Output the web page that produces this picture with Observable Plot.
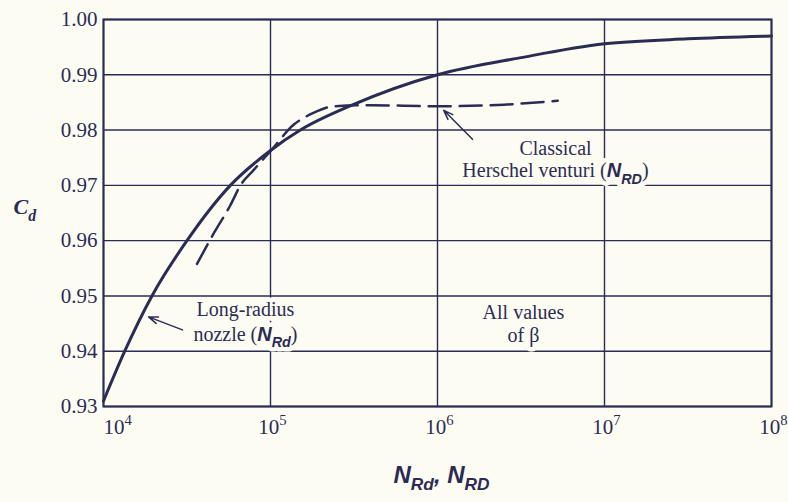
<!DOCTYPE html>
<html><head><meta charset="utf-8">
<script src="https://cdn.jsdelivr.net/npm/d3@7"></script>
<script src="https://cdn.jsdelivr.net/npm/@observablehq/plot@0.6"></script>
<style>
html,body{margin:0;padding:0;background:#fdfcf3;}
#chart svg{display:block;}
</style></head><body><div id="chart"></div>
<script>
// ---- data ----
const xTicks = [1e4, 1e5, 1e6, 1e7, 1e8];
const xTickLabels = ["10^{4}", "10^{5}", "10^{6}", "10^{7}", "10^{8}"];
const yTicks = [0.93, 0.94, 0.95, 0.96, 0.97, 0.98, 0.99, 1.00];
const yTickLabels = ["0.93", "0.94", "0.95", "0.96", "0.97", "0.98", "0.99", "1.00"];

// Long-radius nozzle (solid)
const nozzleRe = [10000, 13400, 19500, 31600, 57500, 100000, 151000, 302000, 1000000, 3160000, 10000000, 31600000, 100000000];
const nozzleCd = [0.931, 0.940, 0.950, 0.960, 0.970, 0.9763, 0.980, 0.9844, 0.990, 0.9931, 0.9956, 0.9965, 0.9970];

// Classical Herschel venturi (dashed)
const venturiRe = [36300, 45700, 57500, 66100, 79400, 100000, 138000, 178000, 240000, 398000, 1000000, 2510000, 5250000];
const venturiCd = [0.9558, 0.9613, 0.9664, 0.9700, 0.9728, 0.9762, 0.9810, 0.9830, 0.9843, 0.9845, 0.9843, 0.9846, 0.9853];

const notes = [
  {x: 70800, y: 0.94558, text: "Long-radius\nnozzle (*N*_[Rd])", lh: 1.25},
  {x: 5090000, y: 0.97473, text: "Classical\nHerschel venturi (*N*_[RD])", lh: 1.1},
  {x: 3270000, y: 0.94513, text: "All values\nof β", lh: 1.15}
];
const arrows = [
  {x1: 29700, y1: 0.94386, x2: 18600, y2: 0.94621},
  {x1: 1620000, y1: 0.97834, x2: 1090000, y2: 0.98357}
];

// ---- build tables ----
const nozzle = nozzleRe.map((r, i) => ({re: r, cd: nozzleCd[i]}));
const venturi = venturiRe.map((r, i) => ({re: r, cd: venturiCd[i]}));

const ink = "#2b2c55";
const bg = "#fdfcf3";
const serif = "Liberation Serif, Times New Roman, serif";

const noteMarks = notes.flatMap(n => [
  Plot.text([n], {x: "x", y: "y", text: "text", lineAnchor: "middle", lineHeight: n.lh,
    fontSize: 20, fontFamily: serif, fill: bg, stroke: bg, strokeWidth: 9}),
  Plot.text([n], {x: "x", y: "y", text: "text", lineAnchor: "middle", lineHeight: n.lh,
    fontSize: 20, fontFamily: serif, fill: ink})
]);

const chart = Plot.plot({
  width: 788, height: 502,
  marginLeft: 103, marginRight: 17, marginTop: 19, marginBottom: 96,
  style: {background: bg, fontFamily: serif, color: ink, overflow: "visible"},
  x: {type: "log", domain: [1e4, 1e8], axis: null},
  y: {domain: [0.93, 1.0], axis: null},
  marks: [
    Plot.ruleX(xTicks, {stroke: ink, strokeWidth: 1.4}),
    Plot.ruleY(yTicks, {stroke: ink, strokeWidth: 1.4}),
    Plot.frame({stroke: ink, strokeWidth: 2}),
    ...noteMarks,
    Plot.line(venturi, {x: "re", y: "cd", stroke: ink, strokeWidth: 2.5,
      strokeDasharray: "22,9", curve: "monotone-x"}),
    Plot.line(nozzle, {x: "re", y: "cd", stroke: ink, strokeWidth: 3, curve: "monotone-x"}),
    Plot.arrow(arrows, {x1: "x1", y1: "y1", x2: "x2", y2: "y2", stroke: ink,
      strokeWidth: 1.5, headLength: 10, headAngle: 40}),
    // y tick labels
    Plot.text(yTicks, {y: d => d, text: (d, i) => yTickLabels[i], frameAnchor: "left",
      textAnchor: "end", dx: -6, fontSize: 21, fontFamily: serif, fill: ink}),
    // x tick labels
    Plot.text(xTicks.slice(0, 1), {x: d => d, text: (d, i) => xTickLabels[i], frameAnchor: "bottom",
      textAnchor: "start", lineAnchor: "middle", dy: 21, dx: 0, fontSize: 21, fontFamily: serif, fill: ink}),
    Plot.text(xTicks.slice(1), {x: d => d, text: (d, i) => xTickLabels[i + 1], frameAnchor: "bottom",
      lineAnchor: "middle", dy: 21, dx: 2, fontSize: 21, fontFamily: serif, fill: ink}),
    // axis titles
    Plot.text(["C_{d}"], {text: d => d, frameAnchor: "left", dx: -90, dy: -6, textAnchor: "start",
      fontSize: 22, fontFamily: serif, fontStyle: "italic", fontWeight: "bold", fill: ink}),
    Plot.text(["*N*_[Rd], *N*_[RD]"], {text: d => d, frameAnchor: "bottom", dy: 76, dx: 4,
      fontSize: 24, fill: ink, fontFamily: "Liberation Sans, sans-serif", fontStyle: "italic", fontWeight: "bold"})
  ]
});
document.getElementById("chart").appendChild(chart);

// ---- rich text: sub/superscripts and handwritten symbols ----
const NS = "http://www.w3.org/2000/svg";
function richify(el) {
  const s = el.textContent;
  if (!/[_^*]/.test(s)) return;
  const size = parseFloat(getComputedStyle(el).fontSize) || 20;
  while (el.firstChild) el.removeChild(el.firstChild);
  const re = /\*([^*]+)\*|_\{([^}]*)\}|_\[([^\]]*)\]|\^\{([^}]*)\}|([^*_^]+)/g;
  let m, shift = 0;
  while ((m = re.exec(s))) {
    const t = document.createElementNS(NS, "tspan");
    let ns = 0;
    if (m[1] != null) {
      t.textContent = m[1];
      t.setAttribute("font-family", "Liberation Sans, sans-serif");
      t.setAttribute("font-style", "italic");
      t.setAttribute("font-weight", "bold");
    } else if (m[2] != null || m[3] != null) {
      t.textContent = m[2] != null ? m[2] : m[3];
      t.setAttribute("font-size", (size * 0.72).toFixed(1));
      ns = size * 0.33;
      if (m[3] != null) {
        t.setAttribute("font-family", "Liberation Sans, sans-serif");
        t.setAttribute("font-style", "italic");
        t.setAttribute("font-weight", "bold");
      }
    } else if (m[4] != null) {
      t.textContent = m[4];
      t.setAttribute("font-size", (size * 0.7).toFixed(1));
      ns = -size * 0.42;
    } else {
      t.textContent = m[5];
    }
    if (ns !== shift) t.setAttribute("dy", (ns - shift).toFixed(1));
    shift = ns;
    el.appendChild(t);
  }
}
const targets = [];
chart.querySelectorAll("text").forEach(txt => {
  const lines = txt.querySelectorAll(":scope > tspan");
  if (lines.length) lines.forEach(l => targets.push(l)); else targets.push(txt);
});
targets.forEach(richify);
</script>
</body></html>
